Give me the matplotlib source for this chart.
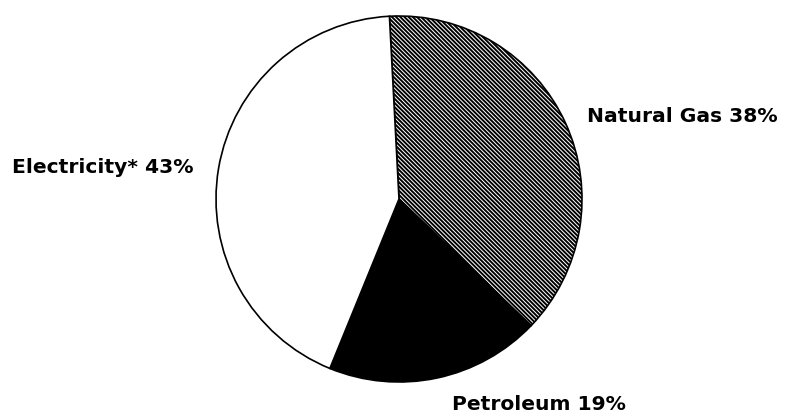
import matplotlib
matplotlib.use("Agg")
import matplotlib.pyplot as plt

labels = ["Natural Gas", "Petroleum", "Electricity*"]
values = [38, 19, 43]
colors = ["white", "black", "white"]
hatches = ["\\" * 8, "", ""]

plt.rcParams["hatch.linewidth"] = 1.4

W, H = 785, 416
fig = plt.figure(figsize=(W / 100, H / 100), dpi=100)
ax = fig.add_axes([0, 0, 1, 1])
cx, cy, r = 399, 199, 183

wedges, _ = ax.pie(values, startangle=93, counterclock=False, radius=1,
                   colors=colors, center=(0, 0), frame=True,
                   wedgeprops=dict(edgecolor="black", linewidth=1.2))
for w, h in zip(wedges, hatches):
    w.set_hatch(h)
ax.set_xlim(-cx / r, (W - cx) / r)
ax.set_ylim(-(H - cy) / r, cy / r)
ax.set_aspect("auto")
ax.axis("off")

def px(x, y):
    return ((x - cx) / r, (cy - y) / r)

font = dict(family=["DejaVu Sans"], fontweight="bold", fontsize=14.6)
texts = [f"{l} {v}%" for l, v in zip(labels, values)]
ax.text(*px(587, 122), texts[0], ha="left", va="baseline", **font)
ax.text(*px(452, 410), texts[1], ha="left", va="baseline", **font)
ax.text(*px(12, 173), texts[2], ha="left", va="baseline", **font)

fig.savefig("out.png", dpi=100)
